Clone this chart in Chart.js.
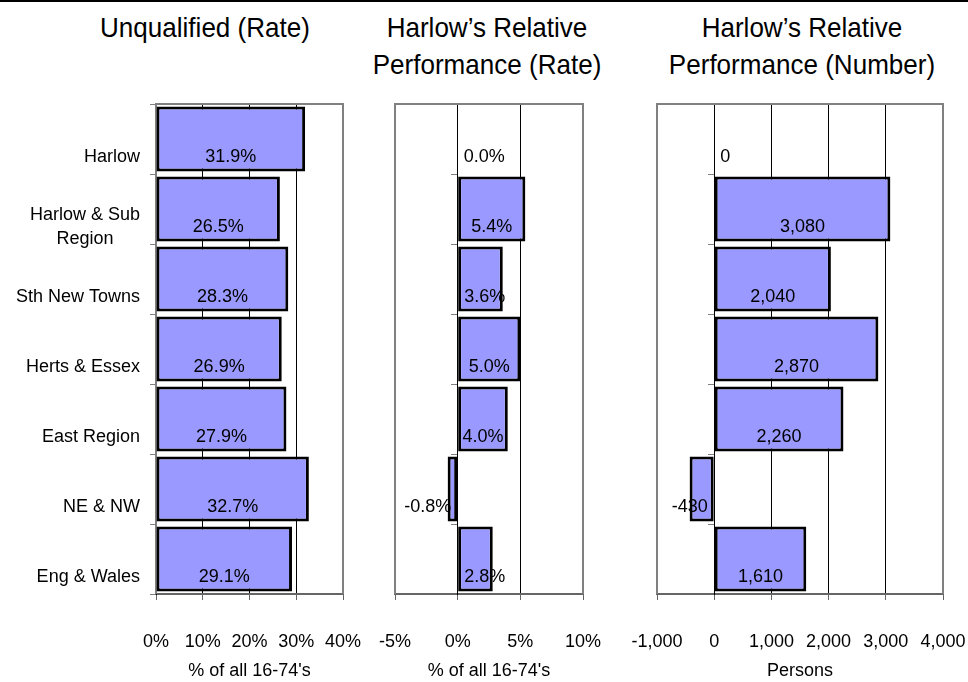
<!DOCTYPE html>
<html>
<head>
<meta charset="utf-8">
<script src="https://cdn.jsdelivr.net/npm/chart.js@4.4.0/dist/chart.umd.min.js"></script>
<style>
  html, body { margin: 0; padding: 0; background: #fff; }
  #wrap { position: relative; width: 968px; height: 682px; overflow: hidden; }
  #wrap .rule { position: absolute; left: 0; top: 0; width: 968px; height: 2px; background: #000; }
  #wrap canvas { position: absolute; top: 0; }
  #wrap .head {
    position: absolute; top: 9px; width: 300px; text-align: center;
    font: 28px "Liberation Sans", Arial, sans-serif; line-height: 37px; color: #000;
    transform: scaleX(0.93); transform-origin: 50% 0;
  }
</style>
</head>
<body>
<div id="wrap">
  <div class="rule"></div>
  <div class="head" style="left:55px">Unqualified (Rate)</div>
  <div class="head" style="left:337px">Harlow’s Relative<br>Performance (Rate)</div>
  <div class="head" style="left:652px">Harlow’s Relative<br>Performance (Number)</div>
  <canvas id="unqualified" width="365" height="682" style="left:0px"></canvas>
  <canvas id="relRate" width="234" height="682" style="left:370px"></canvas>
  <canvas id="relNumber" width="348" height="682" style="left:620px"></canvas>
</div>
<script>
// Areas compared
const categories = [
  'Harlow',
  ['Harlow & Sub', 'Region'],
  'Sth New Towns',
  'Herts & Essex',
  'East Region',
  'NE & NW',
  'Eng & Wales',
];

// % of all 16-74's with no qualifications
const unqualifiedRate = [31.9, 26.5, 28.3, 26.9, 27.9, 32.7, 29.1];
// percentage points above/below Harlow's rate
const relativeRate = [0.0, 5.4, 3.6, 5.0, 4.0, -0.8, 2.8];
// persons above/below Harlow
const relativeNumber = [0, 3080, 2040, 2870, 2260, -430, 1610];

// Axis tick labels
const rateTicks = ['0%', '10%', '20%', '30%', '40%'];
const relRateTicks = ['-5%', '0%', '5%', '10%'];
const relNumberTicks = ['-1,000', '0', '1,000', '2,000', '3,000', '4,000'];

const FONT = '"Liberation Sans", Arial, sans-serif';

// grey frame round the plot area (bottom edge is the x axis line)
const plotFrame = {
  id: 'plotFrame',
  beforeDatasetsDraw(chart) {
    const { ctx, chartArea: a } = chart;
    ctx.save();
    ctx.strokeStyle = '#808080';
    ctx.lineWidth = 2;
    ctx.beginPath();
    ctx.moveTo(a.left, a.bottom);
    ctx.lineTo(a.left, a.top);
    ctx.lineTo(a.right, a.top);
    ctx.lineTo(a.right, a.bottom);
    ctx.stroke();
    ctx.restore();
  },
};

// value labels sit low in each bar; if the text won't fit it hangs off the base
const barValueLabels = {
  id: 'barValueLabels',
  afterDatasetsDraw(chart, args, opts) {
    const { ctx } = chart;
    const meta = chart.getDatasetMeta(0);
    const values = chart.data.datasets[0].data;
    ctx.save();
    ctx.font = '18px ' + FONT;
    ctx.fillStyle = '#000';
    ctx.textBaseline = 'middle';
    meta.data.forEach((bar, i) => {
      const v = values[i];
      const text = opts.format(v);
      const w = ctx.measureText(text).width;
      const len = Math.abs(bar.x - bar.base);
      const y = bar.y + opts.drop;
      if (w + 8 < len) {
        ctx.textAlign = 'center';
        ctx.fillText(text, (bar.x + bar.base) / 2, y);
      } else if (v < 0) {
        ctx.textAlign = 'right';
        ctx.fillText(text, bar.base - 6, y);
      } else {
        ctx.textAlign = 'left';
        ctx.fillText(text, bar.base + 6, y);
      }
    });
    ctx.restore();
  },
};

// category names, right-aligned block with multi-line names centred within it
const categoryLabels = {
  id: 'categoryLabels',
  afterDraw(chart, args, opts) {
    const { ctx } = chart;
    const y = chart.scales.y;
    ctx.save();
    ctx.font = '18px ' + FONT;
    ctx.fillStyle = '#000';
    ctx.textBaseline = 'middle';
    ctx.textAlign = 'center';
    chart.data.labels.forEach((label, i) => {
      const lines = [].concat(label);
      const w = Math.max(...lines.map(t => ctx.measureText(t).width));
      const cx = y.right - opts.gap - w / 2;
      const cy = y.getPixelForValue(i) + opts.drop;
      lines.forEach((t, k) => {
        ctx.fillText(t, cx, cy + (k - (lines.length - 1) / 2) * opts.lineHeight);
      });
    });
    ctx.restore();
  },
};

function makePanel(id, values, cfg) {
  const yAxis = {
    type: 'category',
    position: cfg.yPosition,
    ticks: { display: false },
    grid: {
      drawOnChartArea: false,
      drawTicks: true,
      tickLength: 6,
      tickColor: '#808080',
    },
    border: { display: true, color: '#000', width: 1 },
  };
  if (cfg.yWidth) yAxis.afterFit = s => { s.width = cfg.yWidth; };

  return new Chart(document.getElementById(id), {
    type: 'bar',
    data: {
      labels: categories,
      datasets: [{
        data: values,
        backgroundColor: '#9999ff',
        borderColor: '#000',
        borderWidth: 3,
        borderSkipped: false,
        barPercentage: 0.93,
        categoryPercentage: 1,
      }],
    },
    options: {
      indexAxis: 'y',
      responsive: false,
      animation: false,
      layout: { padding: cfg.padding },
      plugins: {
        legend: { display: false },
        tooltip: { enabled: false },
        barValueLabels: { format: cfg.format, drop: 18 },
        categoryLabels: { gap: 16, drop: 18, lineHeight: 23.5 },
      },
      scales: {
        x: {
          type: 'linear',
          min: cfg.min,
          max: cfg.max,
          ticks: {
            stepSize: cfg.step,
            autoSkip: false,
            maxRotation: 0,
            padding: 31,
            color: '#000',
            font: { family: FONT, size: 18 },
            callback: (v, i) => cfg.ticks[i],
          },
          grid: { color: '#000', lineWidth: 1, tickLength: 6, tickColor: '#666' },
          border: { display: true, color: '#666', width: 2 },
          title: {
            display: true,
            text: cfg.xTitle,
            color: '#000',
            font: { family: FONT, size: 18 },
            padding: { top: 0, bottom: 0 },
          },
          // fixed axis height; side room comes from layout padding only
          afterFit: s => {
            s.height = 88;
            s.paddingLeft = 0;
            s.paddingRight = 0;
          },
        },
        y: yAxis,
      },
    },
    plugins: [plotFrame, barValueLabels].concat(cfg.extra || []),
  });
}

const pct = v => v.toFixed(1) + '%';

makePanel('unqualified', unqualifiedRate, {
  min: 0, max: 40, step: 10, ticks: rateTicks,
  xTitle: "% of all 16-74's",
  format: pct,
  yPosition: 'left',
  yWidth: 156,
  padding: { top: 104, left: 0, right: 22, bottom: 0 },
  extra: [categoryLabels],
});

makePanel('relRate', relativeRate, {
  min: -5, max: 10, step: 5, ticks: relRateTicks,
  xTitle: "% of all 16-74's",
  format: pct,
  yPosition: { x: 0 },
  padding: { top: 104, left: 25, right: 21, bottom: 0 },
});

makePanel('relNumber', relativeNumber, {
  min: -1000, max: 4000, step: 1000, ticks: relNumberTicks,
  xTitle: 'Persons',
  format: v => v.toLocaleString('en-GB'),
  yPosition: { x: 0 },
  padding: { top: 104, left: 37, right: 25, bottom: 0 },
});
</script>
</body>
</html>
